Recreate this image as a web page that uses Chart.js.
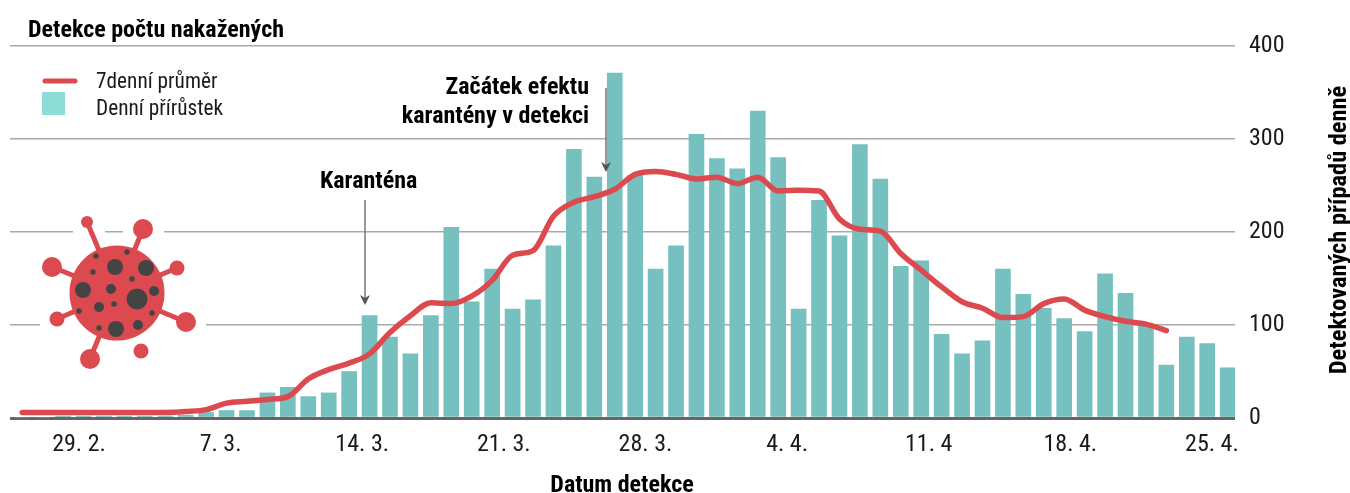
<!DOCTYPE html>
<html lang="cs">
<head>
<meta charset="utf-8">
<title>Detekce počtu nakažených</title>
<script src="https://cdn.jsdelivr.net/npm/chart.js@4"></script>
<style>
  html, body { margin: 0; padding: 0; background: #fff; }
  #wrap { width: 1350px; height: 493px; }
</style>
</head>
<body>
<div id="wrap"><canvas id="chart" width="1350" height="493"></canvas></div>
<script>
// 26. 2. - 25. 4., one value per day
const dayIndex = [];
for (let i = 0; i < 60; i++) dayIndex.push(i);

const dailyCases = [0, 0, 2, 2, 2, 2, 2, 2, 3, 6,
    8, 8, 27, 33, 23, 27, 50, 110, 87, 69,
    110, 205, 125, 160, 117, 127, 185, 289, 259, 371,
    261, 160, 185, 305, 279, 268, 330, 280, 117, 234,
    196, 294, 257, 163, 169, 90, 69, 83, 160, 133,
    118, 107, 93, 155, 134, 100, 57, 87, 80, 54];

const weeklyAvg = [6, 6, 6, 6, 6, 6, 6, 6, 7, 9,
    16, 18, 20, 23, 42, 52, 59, 69, 92, 110,
    124, 123, 131, 148, 175, 180, 217, 232, 238, 246,
    262, 265, 262, 257, 259, 252, 259, 244, 245, 244,
    214, 203, 201, 177, 159, 141, 125, 118, 108, 109,
    123, 128, 116, 109, 104, 101, 94];

const xTickLabels = ['29. 2.', '7. 3.', '14. 3.', '21. 3.', '28. 3.', '4. 4.', '11. 4', '18. 4.', '25. 4.'];
const yTicks = [0, 100, 200, 300, 400];

const RED = '#dc4a50';
const TEAL = '#76c1bf';
const CONDENSED = '"Roboto Condensed", "Liberation Sans Narrow", Roboto, sans-serif';

// draws the headings, legend, arrows and the virus picture
const decorations = {
    id: 'decorations',
    afterDraw(chart) {
        const c = chart.ctx;
        c.save();
        c.textBaseline = 'alphabetic';
        c.fillStyle = '#000';

        c.font = 'bold 24px ' + CONDENSED;
        c.textAlign = 'left';
        c.fillText('Detekce počtu nakažených', 28, 37);
        c.fillText('Karanténa', 320, 188);
        c.textAlign = 'right';
        c.fillText('Začátek efektu', 589, 94);
        c.fillText('karantény v detekci', 589, 123);
        c.textAlign = 'center';
        c.fillText('Datum detekce', 622, 492);

        c.save();
        c.translate(1346, 230);
        c.rotate(-Math.PI / 2);
        c.font = 'bold 24.4px ' + CONDENSED;
        c.fillText('Detektovaných případů denně', 0, 0);
        c.restore();

        // legend
        c.font = '21.3px ' + CONDENSED;
        c.textAlign = 'left';
        c.fillStyle = '#1a1a1a';
        c.fillText('7denní průměr', 96, 88);
        c.fillText('Denní přírůstek', 96, 115);
        c.strokeStyle = RED;
        c.lineWidth = 5;
        c.lineCap = 'round';
        c.beginPath();
        c.moveTo(45, 81);
        c.lineTo(75, 81);
        c.stroke();
        c.fillStyle = '#8edcd6';
        c.fillRect(42, 92, 23, 23);

        arrow(c, 365, 200, 305);
        arrow(c, 606, 88, 172);
        drawVirus(c);
        c.restore();
    }
};

function arrow(c, x, y1, y2) {
    c.strokeStyle = '#777';
    c.fillStyle = '#555';
    c.lineWidth = 1.5;
    c.lineCap = 'butt';
    c.beginPath();
    c.moveTo(x, y1);
    c.lineTo(x, y2 - 6);
    c.stroke();
    c.beginPath();
    c.moveTo(x - 5, y2 - 10);
    c.lineTo(x, y2 - 7);
    c.lineTo(x + 5, y2 - 10);
    c.lineTo(x, y2);
    c.closePath();
    c.fill();
}

function drawVirus(c) {
    // gaps in the gridlines round the picture
    c.fillStyle = '#fff';
    c.fillRect(73, 229, 32, 6);
    c.fillRect(123, 229, 41, 6);
    c.fillRect(40, 322, 166, 6);

    const cx = 117, cy = 293;
    const balls = [[87, 222, 6], [143, 229, 10], [52, 267, 10], [177, 268, 7.5],
        [57, 319, 7.5], [186, 322, 10], [90, 359, 10], [141, 351, 7.5]];
    c.strokeStyle = RED;
    c.fillStyle = RED;
    c.lineWidth = 5;
    c.lineCap = 'butt';
    balls.forEach((b, i) => {
        if (i < 7) {
            c.beginPath();
            c.moveTo(cx, cy);
            c.lineTo(b[0], b[1]);
            c.stroke();
        }
        c.beginPath();
        c.arc(b[0], b[1], b[2], 0, Math.PI * 2);
        c.fill();
    });
    c.beginPath();
    c.arc(cx, cy, 47.5, 0, Math.PI * 2);
    c.fill();

    const spots = [[115, 267, 8], [146, 268, 8], [96, 256, 2.7], [127, 252, 2.7], [93, 272, 2.7],
        [132, 279, 2.7], [83, 290, 8], [111, 289, 5], [137, 299, 10.5], [154, 291, 5],
        [99, 307, 5], [114, 304, 2.7], [79, 311, 2.7], [152, 313, 2.7], [138, 325, 5],
        [99, 328, 2.7], [116, 329, 8]];
    c.fillStyle = '#444';
    spots.forEach(s => {
        c.beginPath();
        c.arc(s[0], s[1], s[2], 0, Math.PI * 2);
        c.fill();
    });
}

new Chart(document.getElementById('chart').getContext('2d'), {
    type: 'bar',
    data: {
        datasets: [
            {
                type: 'line',
                label: '7denní průměr',
                data: weeklyAvg.map((v, i) => ({ x: dayIndex[i], y: v })),
                borderColor: RED,
                borderWidth: 5.5,
                pointRadius: 0,
                tension: 0.4,
                cubicInterpolationMode: 'monotone',
                borderCapStyle: 'round',
                borderJoinStyle: 'round',
                order: 0,
                clip: false
            },
            {
                label: 'Denní přírůstek',
                data: dailyCases.map((v, i) => ({ x: dayIndex[i], y: v })),
                backgroundColor: TEAL,
                barThickness: 15,
                order: 1
            }
        ]
    },
    options: {
        responsive: false,
        animation: false,
        layout: { padding: { left: 10, top: 46, right: 0, bottom: 0 } },
        plugins: { legend: { display: false }, tooltip: { enabled: false } },
        scales: {
            x: {
                type: 'linear',
                display: false,
                offset: false,
                min: -0.6,
                max: 59.36
            },
            // date labels sit on their own slightly tighter spacing
            dates: {
                type: 'linear',
                position: 'bottom',
                axis: 'x',
                offset: false,
                min: -3.41,
                max: 57.14,
                grid: { display: false },
                border: { display: false },
                afterBuildTicks: axis => {
                    axis.ticks = xTickLabels.map((l, i) => ({ value: i * 7 }));
                },
                afterFit: axis => { axis.height = 75; },
                ticks: {
                    autoSkip: false,
                    maxRotation: 0,
                    padding: 5,
                    color: '#1a1a1a',
                    font: { family: CONDENSED, size: 24 },
                    callback: value => xTickLabels[value / 7]
                }
            },
            y: {
                position: 'right',
                min: 0,
                max: 400,
                afterBuildTicks: axis => {
                    axis.ticks = yTicks.map(v => ({ value: v }));
                },
                afterFit: axis => { axis.width = 115; },
                border: { display: false },
                grid: {
                    drawTicks: false,
                    color: ctx => ctx.tick.value === 0 ? '#666' : '#aaa',
                    lineWidth: ctx => ctx.tick.value === 0 ? 3 : 1.5
                },
                ticks: {
                    padding: 14,
                    color: '#1a1a1a',
                    font: { family: CONDENSED, size: 24 }
                }
            }
        }
    },
    plugins: [decorations]
});
</script>
</body>
</html>
